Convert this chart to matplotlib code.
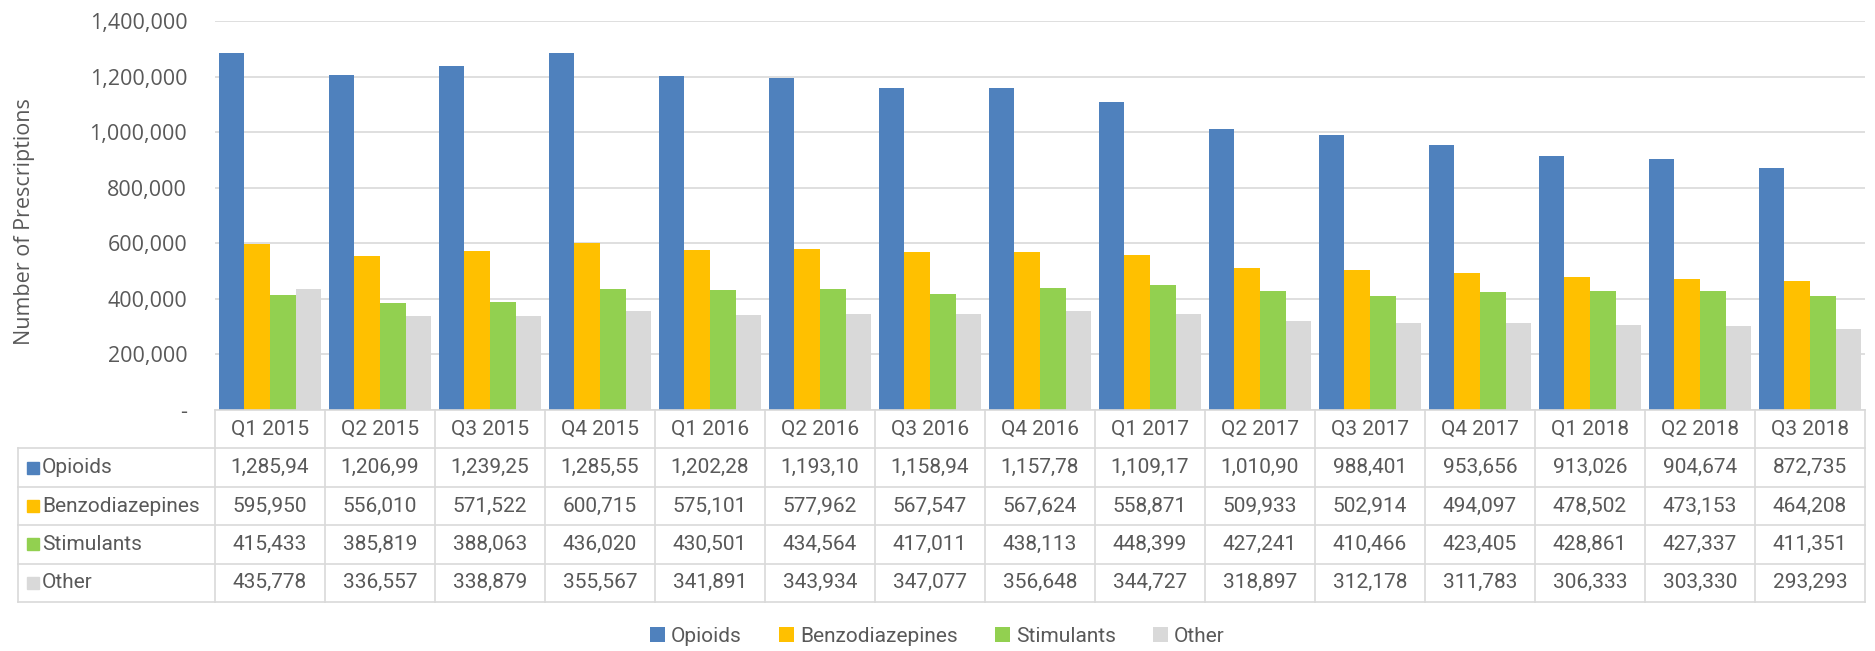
import numpy as np
import matplotlib.pyplot as plt
from matplotlib.patches import Patch

# data (opioid values are cut off in the table, last digit estimated)
quarters = ['Q1 2015', 'Q2 2015', 'Q3 2015', 'Q4 2015', 'Q1 2016', 'Q2 2016', 'Q3 2016',
            'Q4 2016', 'Q1 2017', 'Q2 2017', 'Q3 2017', 'Q4 2017', 'Q1 2018', 'Q2 2018', 'Q3 2018']
opioids = [1285945, 1206995, 1239255, 1285555, 1202285, 1193105, 1158945, 1157785,
           1109175, 1010905, 988401, 953656, 913026, 904674, 872735]
benzodiazepines = [595950, 556010, 571522, 600715, 575101, 577962, 567547, 567624,
                   558871, 509933, 502914, 494097, 478502, 473153, 464208]
stimulants = [415433, 385819, 388063, 436020, 430501, 434564, 417011, 438113,
              448399, 427241, 410466, 423405, 428861, 427337, 411351]
other = [435778, 336557, 338879, 355567, 341891, 343934, 347077, 356648,
         344727, 318897, 312178, 311783, 306333, 303330, 293293]

series_names = ['Opioids', 'Benzodiazepines', 'Stimulants', 'Other']
series_vals = [opioids, benzodiazepines, stimulants, other]
colors = ['#4F81BD', '#FFC000', '#92D050', '#D9D9D9']

W, H = 1875, 651
fig = plt.figure(figsize=(W / 100, H / 100), dpi=100)
txt_col = '#595959'
grid_col = '#D9D9D9'
font_axis = ['Open Sans', 'DejaVu Sans']
font_tab = ['Roboto', 'DejaVu Sans']
tab_size = 15


def px_rect(x0, y0, x1, y1):
    return [x0 / W, 1 - y1 / H, (x1 - x0) / W, (y1 - y0) / H]


# main bar area
ax = fig.add_axes(px_rect(215, 21, 1865, 410))
n = len(quarters)
x = np.arange(n)
bw = 0.234
for i, (name, vals) in enumerate(zip(series_names, series_vals)):
    ax.bar(x + (i - 1.5) * bw, vals, width=bw, color=colors[i], label=name)

ax.set_xlim(-0.5, n - 0.5)
ax.set_ylim(0, 1400000)
ax.set_yticks(np.arange(0, 1400001, 200000))
ax.set_yticklabels(['-'] + [f'{v:,}' for v in range(200000, 1400001, 200000)],
                   color=txt_col, fontsize=15.5, family=font_axis)
ax.tick_params(axis='y', length=0, pad=20)
ax.set_xticks([])
ax.grid(axis='y', color=grid_col, linewidth=1.2)
ax.set_axisbelow(True)
for s in ['top', 'right', 'left']:
    ax.spines[s].set_visible(False)
ax.spines['bottom'].set_color(grid_col)
ax.spines['bottom'].set_linewidth(1.2)

fig.text(25 / W, 1 - 222 / H, 'Number of Prescriptions', rotation=90, va='center', ha='center',
         fontsize=15.5, color=txt_col, family=font_axis)

# data table underneath
tab = fig.add_axes(px_rect(18, 410, 1865, 602))
left = -0.5 - (215 - 18) / 110.0
tab.set_xlim(left, n - 0.5)
tab.set_ylim(5, 0)
tab.axis('off')
lc = dict(color=grid_col, linewidth=1.2, clip_on=False)
for r in range(1, 6):
    tab.plot([left, n - 0.5], [r, r], **lc)
for k in range(n + 1):
    tab.plot([k - 0.5, k - 0.5], [0, 5], **lc)
tab.plot([left, left], [1, 5], **lc)

for j, q in enumerate(quarters):
    tab.text(j, 0.5, q, ha='center', va='center', fontsize=tab_size, color=txt_col, family=font_tab)
for i, (name, vals) in enumerate(zip(series_names, series_vals)):
    yr = i + 1.5
    tab.plot([left + 15 / 110.0], [yr], marker='s', markersize=9, color=colors[i],
             linestyle='none', clip_on=False)
    tab.text(left + 24 / 110.0, yr, name, ha='left', va='center', fontsize=tab_size,
             color=txt_col, family=font_tab)
    for j, v in enumerate(vals):
        tab.text(j, yr, f'{v:,}'[:8], ha='center', va='center', fontsize=tab_size,
                 color=txt_col, family=font_tab)

handles = [Patch(facecolor=c, label=nm) for c, nm in zip(colors, series_names)]
fig.legend(handles=handles, loc='center', bbox_to_anchor=(0.5, 1 - 636 / H), ncol=4,
           frameon=False, prop={'family': font_tab, 'size': tab_size}, labelcolor=txt_col,
           handlelength=0.7, handleheight=0.7, handletextpad=0.3, columnspacing=1.8)

fig.savefig('out.png', dpi=100)
